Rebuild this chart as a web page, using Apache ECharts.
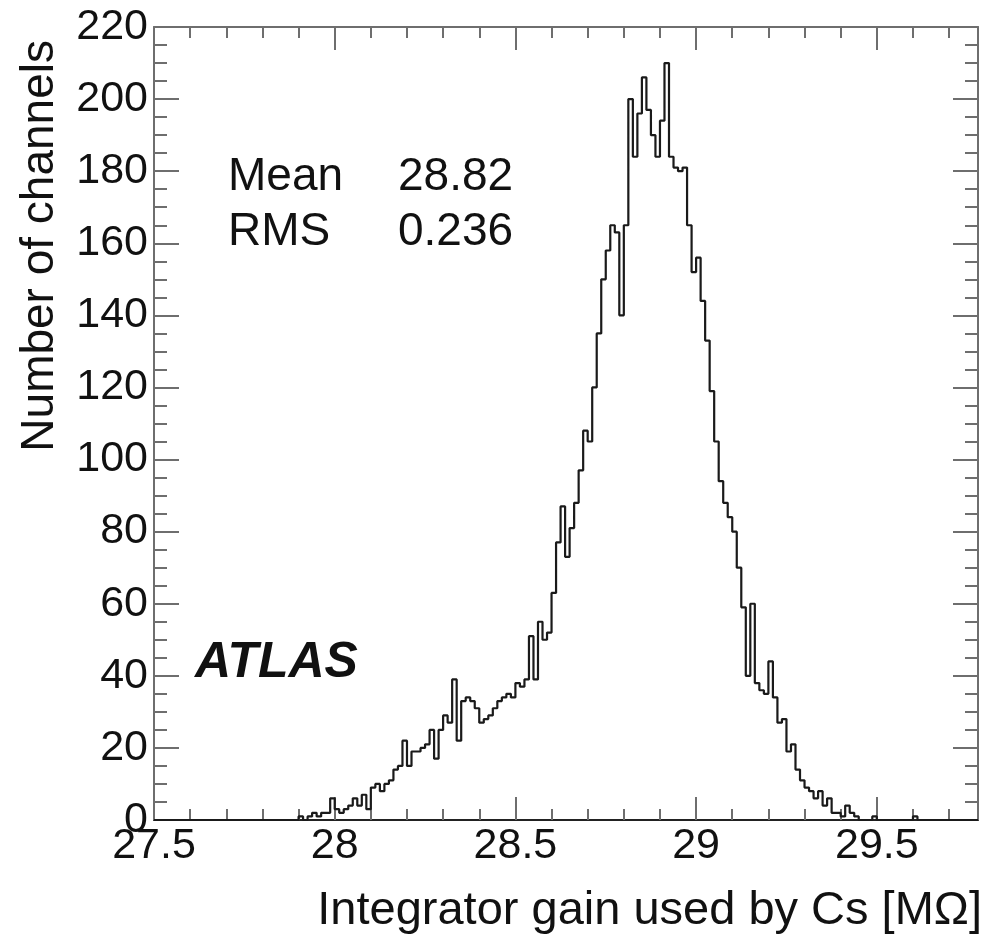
<!DOCTYPE html>
<html>
<head>
<meta charset="utf-8">
<script src="https://cdn.jsdelivr.net/npm/echarts@6/dist/echarts.min.js"></script>
<style>
html,body{margin:0;padding:0;background:#fff;}
#chart{width:991px;height:939px;}
</style>
</head>
<body>
<div id="chart"></div>
<script>
// ---- data ----
const binLow = 27.9;      // lower edge of first bin
const binWidth = 0.0125;  // bin width [MOhm]
const counts = [
  1,0,1,2,1, 2,2,6,3,2, 3,4,6,4,7, 3,9,10,8,10,
  11,14,15,22,15, 19,19,20,21,25, 17,25,29,27,39, 22,33,34,33,31,
  27,28,29,31,33, 34,35,34,38,37, 39,51,39,55,50, 52,63,77,87,73,
  81,88,97,108,105, 120,135,150,158,165, 163,140,165,200,184, 196,206,197,190,184,
  194,210,184,181,180, 181,165,152,156,144, 133,119,105,94,88, 84,80,70,59,40,
  60,38,36,35,44, 34,27,28,19,21, 14,11,9,8,6, 8,4,6,2,2,
  1,4,2,1,0, 0,0,1,0,0, 0,0,0,0,0, 0,1,0
];
const xRange = [27.5, 29.78];
const yRange = [0, 220];
const xMajorTicks = ['27.5','28','28.5','29','29.5'];
const yTickLabels = ['0','20','40','60','80','100','120','140','160','180','200','220'];
const statsNames = ['Mean', 'RMS'];
const statsValues = ['28.82', '0.236'];
const xTitle = 'Integrator gain used by Cs [M\u03A9]';
const yTitle = 'Number of channels';
const experiment = 'ATLAS';

// ---- build histogram points ----
const histData = [[xRange[0], 0]];
counts.forEach((c, i) => histData.push([binLow + i * binWidth, c]));
histData.push([binLow + counts.length * binWidth, 0]);
histData.push([xRange[1], 0]);

const FONT = 'Liberation Sans, Arial, Helvetica, sans-serif';
const frameColor = '#6e6e6e';

const chart = echarts.init(document.getElementById('chart'), null, {renderer: 'canvas'});

function xAxisCfg(pos, major) {
  return {
    type: 'value', position: pos, min: xRange[0], max: xRange[1],
    interval: major ? 0.5 : 0.1,
    axisLine: {show: major, onZero: false, lineStyle: {color: pos === 'bottom' ? '#222' : frameColor, width: 2}},
    axisTick: {show: true, inside: true, length: major ? 23 : 11, lineStyle: {color: frameColor, width: 2}},
    axisLabel: {
      show: major && pos === 'bottom', margin: 5, color: '#111', fontSize: 43, fontFamily: FONT,
      showMaxLabel: false,
      formatter: v => { const s = xMajorTicks.find(t => Math.abs(parseFloat(t) - v) < 1e-6); return s || ''; }
    },
    splitLine: {show: false}
  };
}
function yAxisCfg(pos) {
  return {
    type: 'value', position: pos, min: yRange[0], max: yRange[1], interval: 20,
    axisLine: {show: true, lineStyle: {color: frameColor, width: 2}},
    axisTick: {show: true, inside: true, length: 25, lineStyle: {color: frameColor, width: 2}},
    minorTick: {show: true, splitNumber: 4, length: 13, lineStyle: {color: frameColor, width: 2}},
    axisLabel: {
      show: pos === 'left', margin: 6, color: '#111', fontSize: 43, fontFamily: FONT,
      formatter: v => { const s = yTickLabels.find(t => Math.abs(parseFloat(t) - v) < 1e-6); return s || ''; }
    },
    splitLine: {show: false}
  };
}

chart.setOption({
  animation: false,
  backgroundColor: '#fff',
  grid: {left: 154, right: 13, top: 27, bottom: 119, containLabel: false},
  xAxis: [xAxisCfg('bottom', true), xAxisCfg('bottom', false), xAxisCfg('top', true), xAxisCfg('top', false)],
  yAxis: [yAxisCfg('left'), yAxisCfg('right')],
  series: [{
    type: 'line', xAxisIndex: 0, yAxisIndex: 0, step: 'end', data: histData,
    showSymbol: false, symbol: 'none', clip: true,
    lineStyle: {color: '#1a1a1a', width: 2.2}
  }],
  graphic: [
    {type: 'text', left: 228, top: 154, style: {text: statsNames[0], font: '46px ' + FONT, fill: '#111'}},
    {type: 'text', left: 228, top: 209, style: {text: statsNames[1], font: '46px ' + FONT, fill: '#111'}},
    {type: 'text', left: 398, top: 154, style: {text: statsValues[0], font: '46px ' + FONT, fill: '#111'}},
    {type: 'text', left: 398, top: 209, style: {text: statsValues[1], font: '46px ' + FONT, fill: '#111'}},
    {type: 'text', left: 195, top: 638, style: {text: experiment, font: 'italic bold 50px ' + FONT, fill: '#111'}},
    {type: 'text', right: 9, top: 888, style: {text: xTitle, font: '47px ' + FONT, fill: '#111'}},
    {type: 'text', x: 17, y: 40, rotation: Math.PI / 2, style: {text: yTitle, font: '46px ' + FONT, fill: '#111', align: 'right', verticalAlign: 'top'}}
  ]
});
</script>
</body>
</html>
